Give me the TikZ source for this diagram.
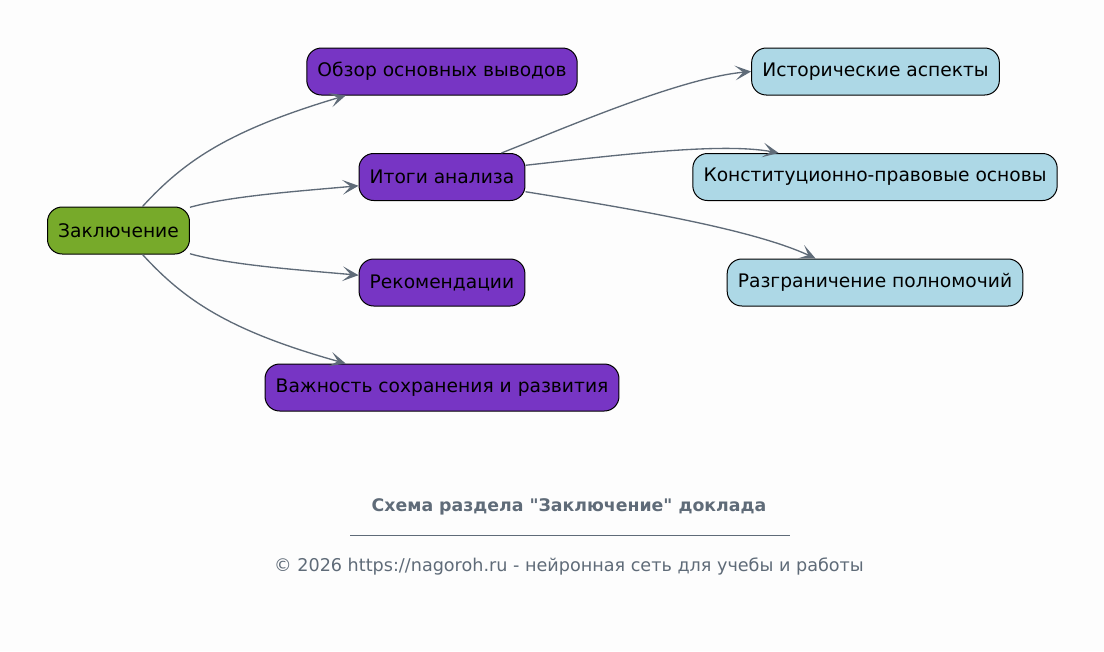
\documentclass[tikz,border=0pt]{standalone}
\usepackage{fontspec}
\setmainfont{DejaVu Sans}[Ligatures=TeXOff]
\usetikzlibrary{arrows.meta}
\definecolor{leafgreen}{HTML}{77AA2A}
\definecolor{topicviolet}{HTML}{7735C4}
\definecolor{subblue}{HTML}{ADD8E6}
\definecolor{edgegray}{HTML}{5F6B78}
\definecolor{paper}{HTML}{FDFDFD}
\begin{document}
\begin{tikzpicture}[x=0.75pt, y=-0.75pt,
    box/.style={draw=black, line width=0.75pt, rounded corners=11pt,
        minimum height=35.25pt, inner xsep=8pt, font=\fontsize{14}{17}\selectfont},
    root/.style={box, fill=leafgreen},
    topic/.style={box, fill=topicviolet},
    detail/.style={box, fill=subblue},
    link/.style={draw=edgegray, line width=1pt,
        -{Stealth[length=12pt, width=11pt, inset=6pt]}},
    note/.style={text=edgegray, font=\fontsize{13.2}{16}\selectfont}]
    \path[fill=paper] (0, 0) rectangle (1104, 651);

    \node[root]   (zakl)  at (118.5, 230.5) {Заключение};
    \node[topic]  (obzor) at (442,    71.5) {Обзор основных выводов};
    \node[topic]  (itogi) at (442,   177)   {Итоги анализа};
    \node[topic]  (rekom) at (442,   282.5) {Рекомендации};
    \node[topic]  (vazhn) at (442,   387.5) {Важность сохранения и развития};
    \node[detail] (istor) at (875.5,  71.5) {Исторические аспекты};
    \node[detail] (konst) at (875,   177)   {Конституционно-правовые основы};
    \node[detail] (razgr) at (875,   282.5) {Разграничение полномочий};

    \draw[link] (zakl.45)  .. controls (185, 160) and (230, 130) .. (obzor.194);
    \draw[link] (zakl.18)  .. controls (230, 196) and (300, 191) .. (itogi.186);
    \draw[link] (zakl.-18) .. controls (230, 265) and (300, 270) .. (rekom.175);
    \draw[link] (zakl.-45) .. controls (185, 301) and (230, 331) .. (vazhn.166);

    \draw[link] (itogi.22) .. controls (565, 128) and (680, 78)  .. (istor.west);
    \draw[link] (itogi.8)  .. controls (610, 156) and (720, 142) .. (konst.166);
    \draw[link] (itogi.-10) .. controls (620, 207) and (750, 228) .. (razgr.158);

    \node[note, font=\fontsize{13}{16}\selectfont\bfseries] (title) at (569, 507)
        {Схема раздела "Заключение" доклада};
    \coordinate (ruleL) at (350, 535);
    \coordinate (ruleR) at (790, 535);
    \draw[edgegray, line width=0.6pt] (ruleL) -- (ruleR);
    \node[note] (copy) at (569, 566)
        {© 2026 https://nagoroh.ru - нейронная сеть для учебы и работы};
\end{tikzpicture}
\end{document}
